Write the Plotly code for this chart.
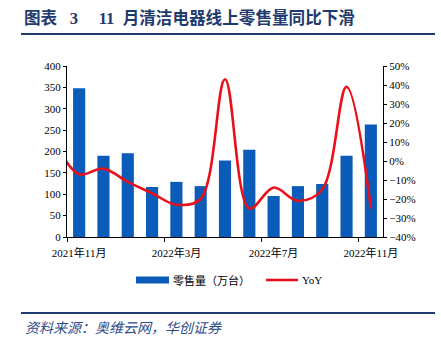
import plotly.graph_objects as go

# ---- data ----
months = ["2021年11月", "2021年12月", "2022年1月", "2022年2月", "2022年3月", "2022年4月",
          "2022年5月", "2022年6月", "2022年7月", "2022年8月", "2022年9月", "2022年10月", "2022年11月"]
sales = [348, 190, 196, 117, 129, 119, 179, 204, 96, 119, 124, 190, 263]  # 万台
yoy_months = ["2021年10月"] + months
yoy = [10, -7, -4, -11, -17, -23, -20, 43, -25, -14, -21, -15, 39, -25]  # %
tick_labels = ["2021年11月", "2022年3月", "2022年7月", "2022年11月"]
tick_idx = [0, 4, 8, 12]
boundary_ticks = [-0.5, 3.5, 7.5, 11.5]

# ---- layout geometry (pixels) ----
W, H = 441, 345
L, R, T, B = 67, 383, 66, 237


def px(x):
    return (x - L) / (R - L)


def py(y):
    return (B - y) / (B - T)


SERIF = "Liberation Serif, Noto Sans CJK SC"
BLUE = "#0A5CB8"
RED = "#E8111B"
NAVY = "#1F3B6E"

bar_x = list(range(len(months)))
line_x = [i - 1 for i in range(len(yoy_months))]

fig = go.Figure()
fig.add_trace(go.Bar(x=bar_x, y=sales, width=0.5, marker=dict(color=BLUE, line=dict(width=0)),
                     name="零售量（万台）", xaxis="x", yaxis="y"))
fig.add_trace(go.Scatter(x=line_x, y=yoy, mode="lines", name="YoY",
                         line=dict(color=RED, width=2.6, shape="spline", smoothing=1),
                         xaxis="x", yaxis="y2"))
# invisible trace to host the boundary-tick axis
fig.add_trace(go.Scatter(x=[boundary_ticks[0]], y=[0], mode="markers", marker=dict(opacity=0),
                         showlegend=False, hoverinfo="skip", xaxis="x3", yaxis="y"))

axis_font = dict(family=SERIF, size=11, color="#000000")
xr = [-0.5, len(months) - 0.5]

fig.update_layout(
    width=W, height=H,
    margin=dict(l=L, r=W - R, t=T, b=H - B),
    paper_bgcolor="white", plot_bgcolor="white",
    showlegend=False,
    bargap=0.5,
    xaxis=dict(range=xr, tickmode="array", tickvals=tick_idx, ticktext=tick_labels,
               ticks="", ticklabelstandoff=6, showline=True, linecolor="#000000", linewidth=1,
               showgrid=False, zeroline=False, tickfont=axis_font, fixedrange=True),
    xaxis3=dict(range=xr, overlaying="x", anchor="y", side="bottom", tickmode="array",
                tickvals=boundary_ticks, ticks="outside", ticklen=4, tickcolor="#000000",
                showticklabels=False, showline=False, showgrid=False, zeroline=False),
    yaxis=dict(range=[0, 400], dtick=50, ticks="outside", ticklen=3, tickcolor="#000000",
               showline=True, linecolor="#000000", linewidth=1, showgrid=False,
               zeroline=False, tickfont=axis_font),
    yaxis2=dict(range=[-40, 50], dtick=10, ticksuffix="%", overlaying="y", side="right",
                ticks="outside", ticklen=3, tickcolor="#000000", showline=True,
                linecolor="#000000", linewidth=1, showgrid=False, zeroline=False,
                tickfont=axis_font),
)

NB = "\u00a0"
annotations = [
    dict(text="<b>图表" + NB * 3 + "3" + NB * 5 + "11" + NB * 2 + "月清洁电器线上零售量同比下滑</b>",
         x=px(22), y=py(18), xanchor="left", yanchor="middle",
         font=dict(family=SERIF, size=16.6, color=NAVY)),
    dict(text="<i>资料来源：奥维云网，华创证券</i>", x=px(23), y=py(328), xanchor="left",
         yanchor="middle", font=dict(family=SERIF, size=14, color="#2B4C8C")),
    dict(text="零售量（万台）", x=px(171), y=py(280), xanchor="left", yanchor="middle",
         font=dict(family=SERIF, size=11, color="#000000")),
    dict(text="YoY", x=px(300), y=py(280), xanchor="left", yanchor="middle",
         font=dict(family=SERIF, size=11, color="#000000")),
]
for a in annotations:
    a.update(xref="paper", yref="paper", showarrow=False)
fig.update_layout(annotations=annotations)

shapes = [
    dict(type="line", x0=px(21), x1=px(435), y0=py(34), y1=py(34), line=dict(color=NAVY, width=2)),
    dict(type="line", x0=px(21), x1=px(435), y0=py(313), y1=py(313), line=dict(color=NAVY, width=2)),
    dict(type="rect", x0=px(136), x1=px(169), y0=py(283.5), y1=py(276.5),
         fillcolor=BLUE, line=dict(width=0)),
    dict(type="line", x0=px(266), x1=px(298), y0=py(280), y1=py(280), line=dict(color=RED, width=2.6)),
]
for s in shapes:
    s.update(xref="paper", yref="paper")
fig.update_layout(shapes=shapes)

fig.write_html("out.html")
